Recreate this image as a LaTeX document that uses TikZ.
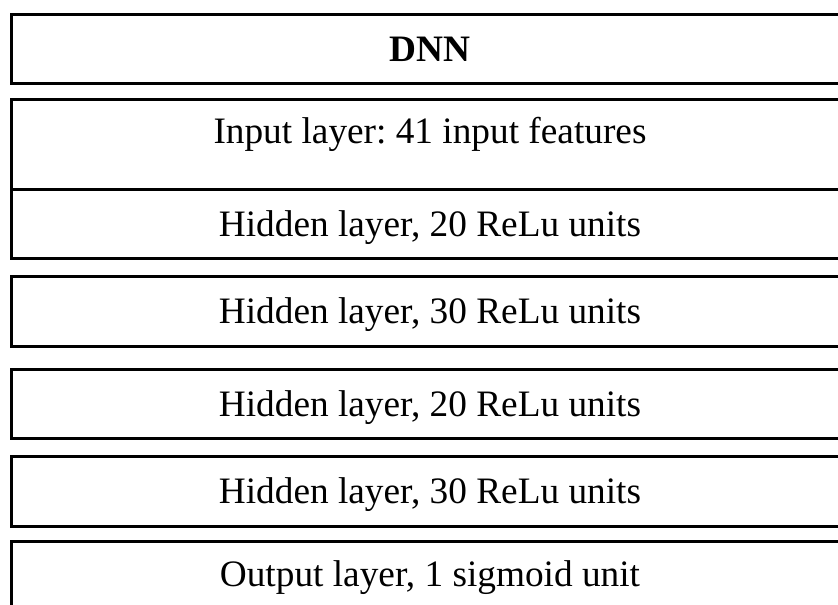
\documentclass[tikz,border=0pt]{standalone}
\usepackage{fontspec}
\setmainfont{Liberation Serif}
\frenchspacing
\usetikzlibrary{positioning}
\tikzset{layer/.style={draw,line width=3pt,fill=white,minimum width=837pt,inner sep=0pt,
    text height=24.7pt,text depth=0pt,font=\fontsize{37.3}{45}\selectfont},
  lbl/.style={inner sep=0pt,text height=24.7pt,text depth=0pt,font=\fontsize{37.3}{45}\selectfont}}

\begin{document}
\begin{tikzpicture}[x=1pt,y=-1pt]
% page is 838 x 605, y grows downwards
\useasboundingbox (0,0) rectangle (838,605);
\clip (0,0) rectangle (838,605);
\node[layer,minimum height=68.5pt] (dnn) at (430,49) {\bfseries DNN};
% input box sits partly under the first hidden layer
\node[layer,minimum height=112.7pt] (in) at (429.5,155.4) {};
\node[lbl] (inlbl) at (430,131.5) {Input layer: 41 input features};
\foreach \y/\n [count=\i] in {223.75/20,311.5/30,404/20,491.5/30}{
  \node[layer,minimum height=69.5pt] (h\i) at (430,\y) {Hidden layer, \n\ ReLu units};
}
\node[layer,minimum height=90pt] (out) at (430,586.8) {};
\node[lbl] (outlbl) at (430,574.5) {Output layer, 1 sigmoid unit};
\end{tikzpicture}
\end{document}
